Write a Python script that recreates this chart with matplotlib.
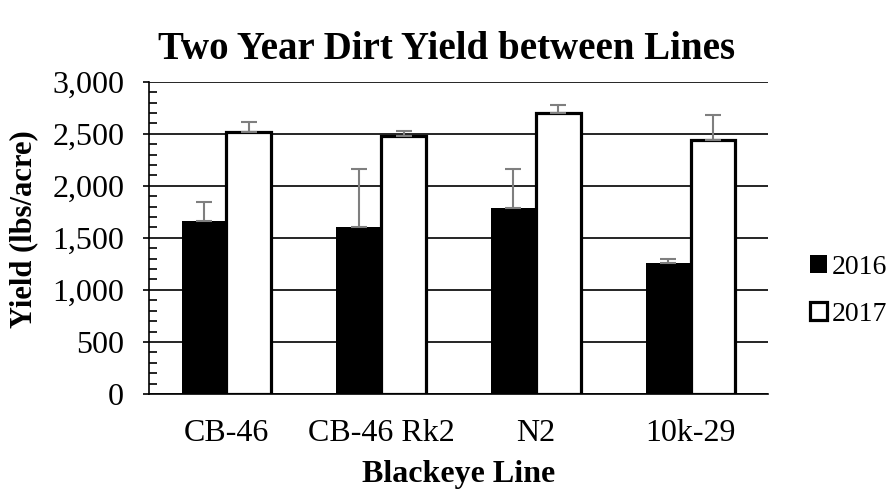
import numpy as np
import matplotlib
matplotlib.use("Agg")
from matplotlib import pyplot as plt
from matplotlib.ticker import MultipleLocator, FuncFormatter
from matplotlib.patches import Patch

plt.rcParams['font.family'] = ['Liberation Serif', 'DejaVu Serif']

# data
lines = ["CB-46", "CB-46 Rk2", "N2", "10k-29"]
yield_2016 = [1665, 1600, 1790, 1262]
yield_2017 = [2515, 2483, 2700, 2442]
err_2016 = [175, 560, 375, 33]
err_2017 = [98, 40, 80, 240]

fig = plt.figure(figsize=(8.93, 4.91), dpi=100)
ax = fig.add_axes([0.167, 0.1976, 0.693, 0.636])

x = np.arange(len(lines))
w = 0.29

ax.bar(x - w / 2, yield_2016, w, color='black', edgecolor='black', linewidth=0,
       zorder=3)
ax.bar(x + w / 2, yield_2017, w, color='white', edgecolor='black', linewidth=2.3,
       zorder=3)

ecol = '#7f7f7f'
ax.errorbar(x - w / 2, yield_2016, yerr=[np.zeros(4), err_2016], fmt='none',
            ecolor=ecol, elinewidth=1.5, capsize=5.5, capthick=1.5, zorder=4)
ax.errorbar(x + w / 2, yield_2017, yerr=[np.zeros(4), err_2017], fmt='none',
            ecolor=ecol, elinewidth=1.5, capsize=5.5, capthick=1.5, zorder=4)

ax.set_xlim(-0.5, 3.5)
ax.set_ylim(0, 3000)
ax.yaxis.set_major_locator(MultipleLocator(500))
ax.yaxis.set_minor_locator(MultipleLocator(100))
ax.yaxis.set_major_formatter(FuncFormatter(lambda v, p: f"{int(v):,}"))
ax.grid(axis='y', which='major', color='black', linewidth=1.2, zorder=0)
ax.set_axisbelow(True)

for s in ['top', 'right']:
    ax.spines[s].set_visible(False)
ax.spines['left'].set_linewidth(1.2)
ax.spines['bottom'].set_linewidth(1.2)

ax.set_xticks(x)
ax.set_xticklabels(lines)
ax.tick_params(axis='x', length=0, labelsize=23, pad=18)
ax.tick_params(axis='y', which='major', direction='out', length=4, width=1.2,
               labelsize=23, pad=14)
ax.tick_params(axis='y', which='minor', direction='in', length=6, width=1.2)

ax.set_title("Two Year Dirt Yield between Lines", fontsize=28, fontweight='bold',
             pad=16, x=0.48)
ax.set_xlabel("Blackeye Line", fontsize=23, fontweight='bold', labelpad=9)
ax.set_ylabel("Yield (lbs/acre)", fontsize=22, fontweight='bold')
ax.yaxis.set_label_coords(-0.179, 0.528)

handles = [Patch(facecolor='black', edgecolor='black', linewidth=0, label='2016'),
           Patch(facecolor='white', edgecolor='black', linewidth=2.3, label='2017')]
fig.legend(handles=handles, loc='center left', bbox_to_anchor=(0.907, 0.408),
           frameon=False, borderpad=0, borderaxespad=0,
           fontsize=20, handlelength=0.6, handleheight=0.6, handletextpad=0.2,
           labelspacing=0.78)

fig.savefig("out.png", dpi=100)
